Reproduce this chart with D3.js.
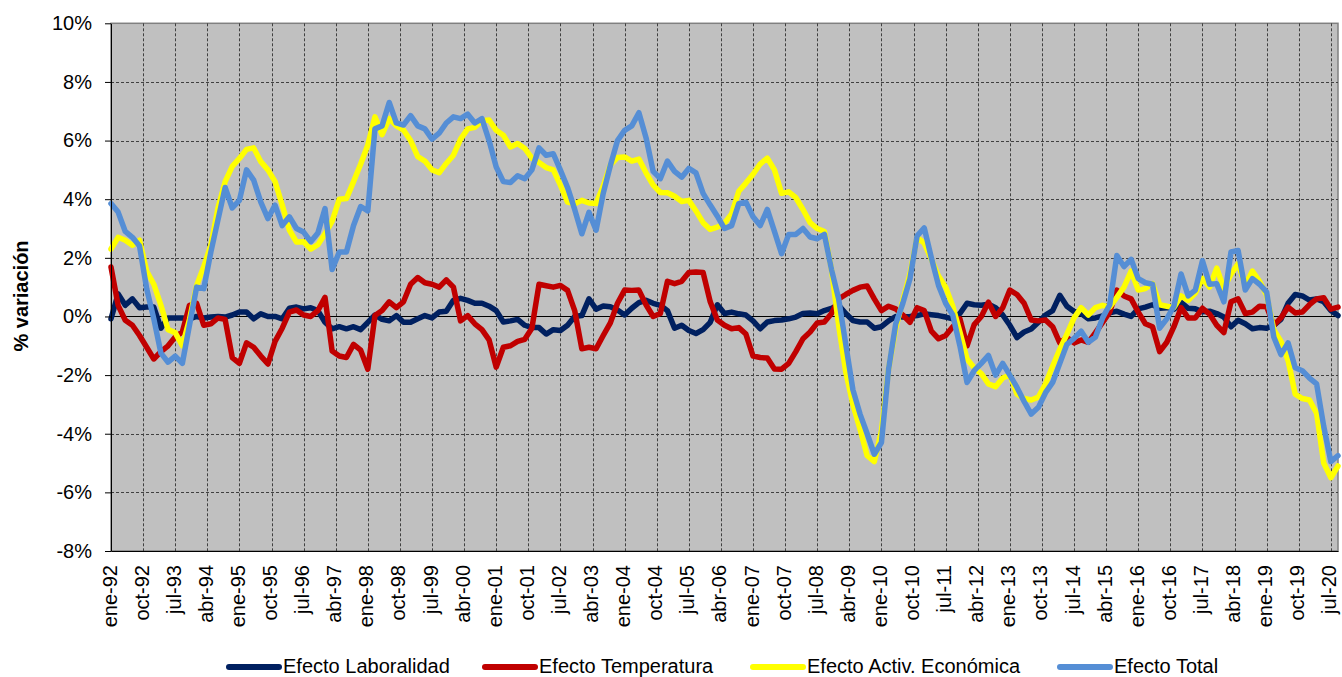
<!DOCTYPE html>
<html>
<head>
<meta charset="utf-8">
<script src="https://cdn.jsdelivr.net/npm/d3@7"></script>
<style>
    body { margin: 0; background: #ffffff; }
    svg { display: block; font-family: Arial, "Liberation Sans", sans-serif; }
</style>
</head>
<body>
<svg id="chart" width="1342" height="677"></svg>
<script>
// values are read every 2 months, starting in ene-92
var STEP_MONTHS = 2;
var START_YEAR = 1992;

var monthNames = ['ene', 'feb', 'mar', 'abr', 'may', 'jun', 'jul', 'ago', 'sep', 'oct', 'nov', 'dic'];

var tickLabels = [
    'ene-92', 'oct-92', 'jul-93', 'abr-94', 'ene-95', 'oct-95', 'jul-96', 'abr-97', 'ene-98', 'oct-98',
    'jul-99', 'abr-00', 'ene-01', 'oct-01', 'jul-02', 'abr-03', 'ene-04', 'oct-04', 'jul-05', 'abr-06',
    'ene-07', 'oct-07', 'jul-08', 'abr-09', 'ene-10', 'oct-10', 'jul-11', 'abr-12', 'ene-13', 'oct-13',
    'jul-14', 'abr-15', 'ene-16', 'oct-16', 'jul-17', 'abr-18', 'ene-19', 'oct-19', 'jul-20'
];

var yTicks = [-8, -6, -4, -2, 0, 2, 4, 6, 8, 10];

var seriesNames = ['Efecto Laboralidad', 'Efecto Temperatura', 'Efecto Activ. Económica', 'Efecto Total'];

var laboralidad = [
    -0.08, 0.77, 0.38, 0.6, 0.3, 0.32,        // 1992
    0.32, -0.4, -0.05, -0.05, -0.05, -0.08,
    0.0, -0.05, -0.02, 0.0, -0.02, 0.05,
    0.15, 0.15, -0.08, 0.09, 0.0, 0.0,
    -0.08, 0.28, 0.32, 0.26, 0.3, 0.2,
    -0.2, -0.42, -0.35, -0.42, -0.35, -0.45,
    -0.2, 0.05, -0.1, -0.15, 0.03, -0.2,
    -0.2, -0.08, 0.03, -0.05, 0.15, 0.18,
    0.55, 0.62, 0.55, 0.45, 0.45, 0.35,       // 2000
    0.2, -0.19, -0.15, -0.1, -0.3, -0.38,
    -0.38, -0.6, -0.45, -0.48, -0.3, 0.0,
    0.03, 0.6, 0.25, 0.36, 0.33, 0.22,
    0.05, 0.28, 0.47, 0.55, 0.45, 0.38,
    0.2, -0.4, -0.3, -0.48, -0.58, -0.45,
    -0.2, 0.4, 0.1, 0.15, 0.09, 0.05,
    -0.15, -0.42, -0.19, -0.14, -0.12, -0.08,
    -0.02, 0.1, 0.12, 0.09, 0.2, 0.28,
    0.38, 0.1, -0.14, -0.19, -0.19, -0.4,
    -0.35, -0.15, 0.0, -0.02, 0.0, 0.03,      // 2010
    0.09, 0.06, 0.03, -0.02, -0.08, 0.1,
    0.45, 0.4, 0.38, 0.42, 0.3, 0.05,
    -0.3, -0.72, -0.53, -0.43, -0.2, 0.05,
    0.2, 0.72, 0.35, 0.17, 0.1, -0.08,
    -0.05, 0.02, 0.12, 0.18, 0.08, 0.0,
    0.26, 0.32, 0.4, 0.28, 0.3, 0.25,
    0.48, 0.28, 0.26, 0.16, 0.18, 0.1,
    -0.02, -0.35, -0.13, -0.25, -0.42, -0.38,
    -0.4, -0.3, -0.1, 0.45, 0.75, 0.7,
    0.56, 0.6, 0.5, 0.2, 0.03                 // 2020
];

var temperatura = [
    1.69, 0.38, -0.13, -0.3, -0.65, -1.05,    // 1992
    -1.45, -1.2, -1.0, -0.7, -0.53, 0.38,
    0.45, -0.3, -0.25, -0.05, -0.1, -1.4,
    -1.6, -0.9, -1.05, -1.35, -1.62, -0.85,
    -0.4, 0.15, 0.22, 0.05, 0.0, 0.2,
    0.65, -1.18, -1.35, -1.4, -0.95, -1.15,
    -1.8, 0.03, 0.2, 0.5, 0.3, 0.5,
    1.1, 1.33, 1.15, 1.1, 1.0, 1.25,
    1.0, -0.15, 0.03, -0.25, -0.45, -0.8,     // 2000
    -1.73, -1.05, -1.0, -0.85, -0.78, -0.4,
    1.1, 1.05, 1.0, 1.06, 0.89, 0.2,
    -1.1, -1.05, -1.1, -0.65, -0.22, 0.45,
    0.9, 0.89, 0.9, 0.4, 0.0, 0.1,
    1.2, 1.12, 1.2, 1.5, 1.52, 1.5,
    0.5, -0.12, -0.3, -0.42, -0.38, -0.6,
    -1.35, -1.4, -1.42, -1.79, -1.8, -1.6,
    -1.2, -0.76, -0.53, -0.22, -0.19, 0.1,
    0.6, 0.75, 0.89, 1.0, 1.04, 0.6,
    0.2, 0.35, 0.26, 0.05, -0.2, 0.3,         // 2010
    0.2, -0.5, -0.76, -0.65, -0.35, -0.08,
    -1.0, -0.28, 0.0, 0.49, 0.0, 0.3,
    0.9, 0.75, 0.45, -0.12, -0.15, -0.12,
    -0.35, -0.9, -0.72, -0.9, -0.8, -0.88,
    -0.55, -0.2, 0.15, 0.9, 0.7, 0.6,
    0.15, -0.25, -0.35, -1.2, -0.88, -0.35,
    0.3, -0.05, -0.05, 0.28, 0.08, -0.3,
    -0.55, 0.5, 0.6, 0.1, 0.15, 0.35,
    0.33, -0.3, -0.05, 0.32, 0.12, 0.15,
    0.4, 0.6, 0.64, 0.25, 0.32                // 2020
];

var actividad = [
    2.3, 2.7, 2.6, 2.43, 2.6, 1.55,           // 1992
    1.1, 0.38, -0.45, -0.55, -1.0, -0.1,
    1.05, 1.7, 2.43, 3.7, 4.6, 5.12,
    5.39, 5.7, 5.75, 5.28, 5.0, 4.6,
    3.8, 2.95, 2.54, 2.55, 2.3, 2.45,
    2.82, 3.25, 4.0, 4.02, 4.6, 5.2,
    5.85, 6.81, 6.2, 6.75, 6.5, 6.36,
    6.0, 5.45, 5.3, 5.0, 4.9, 5.22,
    5.5, 6.05, 6.4, 6.45, 6.68, 6.7,          // 2000
    6.35, 6.18, 5.78, 5.9, 5.73, 5.4,
    5.25, 5.08, 5.0, 4.48, 3.9, 3.84,
    3.96, 3.87, 3.85, 4.45, 5.17, 5.42,
    5.44, 5.3, 5.37, 4.9, 4.48, 4.23,
    4.22, 4.1, 3.92, 3.96, 3.6, 3.2,
    2.97, 3.05, 3.18, 3.5, 4.27, 4.55,
    4.85, 5.2, 5.4, 5.0, 4.2, 4.25,
    4.05, 3.65, 3.2, 3.0, 2.9, 1.6,
    -0.3, -1.9, -3.0, -3.85, -4.75, -4.95,
    -3.9, -1.8, -0.4, 0.55, 1.45, 2.7,        // 2010
    2.5, 1.95, 1.38, 1.0, 0.35, -0.53,
    -1.45, -1.75, -1.95, -2.3, -2.4, -2.1,
    -2.0, -2.65, -2.8, -2.85, -2.75, -2.3,
    -1.7, -1.12, -0.6, -0.05, 0.3, 0.05,
    0.3, 0.38, 0.32, 0.65, 1.0, 1.55,
    0.9, 0.95, 1.12, 0.4, 0.35, 0.3,
    0.7, 0.55, 0.8, 1.3, 1.0, 1.65,
    0.95, 1.45, 1.8, 1.06, 1.55, 1.2,
    0.72, -0.45, -0.85, -1.5, -2.65, -2.8,
    -2.85, -3.3, -5.0, -5.5, -5.1             // 2020
];

var total = [
    3.85, 3.56, 2.9, 2.7, 2.4, 0.95,          // 1992
    -0.08, -1.25, -1.56, -1.35, -1.6, -0.3,
    1.0, 0.95, 2.2, 3.3, 4.4, 3.7,
    3.96, 5.0, 4.65, 3.9, 3.34, 3.8,
    3.1, 3.4, 3.0, 2.88, 2.55, 2.85,
    3.68, 1.6, 2.2, 2.2, 3.1, 3.75,
    3.6, 6.4, 6.5, 7.3, 6.6, 6.53,
    6.85, 6.5, 6.4, 6.05, 6.25, 6.6,
    6.81, 6.75, 6.9, 6.6, 6.75, 6.0,          // 2000
    5.1, 4.6, 4.57, 4.8, 4.7, 5.0,
    5.75, 5.5, 5.55, 4.99, 4.4, 3.65,
    2.82, 3.55, 2.94, 4.2, 5.15, 6.0,
    6.35, 6.5, 6.95, 6.1, 4.95, 4.7,
    5.3, 4.95, 4.75, 5.05, 4.9, 4.2,
    3.8, 3.42, 3.0, 3.1, 3.85, 3.9,
    3.4, 3.1, 3.65, 2.9, 2.14, 2.8,
    2.8, 3.0, 2.71, 2.65, 2.8, 1.6,
    0.6, -0.95, -2.5, -3.33, -4.0, -4.7,
    -4.3, -1.8, -0.25, 0.45, 1.29, 2.75,      // 2010
    3.02, 2.0, 1.06, 0.45, 0.05, -1.0,
    -2.25, -1.85, -1.6, -1.33, -2.0, -1.6,
    -2.0, -2.42, -2.9, -3.33, -3.1, -2.6,
    -2.25, -1.6, -0.95, -0.75, -0.5, -0.88,
    -0.7, -0.05, 0.4, 2.08, 1.7, 1.95,
    1.29, 1.15, 1.1, -0.4, -0.08, 0.35,
    1.45, 0.7, 0.9, 1.9, 1.1, 1.12,
    0.5, 2.2, 2.25, 0.9, 1.29, 1.1,
    0.83, -0.7, -1.3, -0.9, -1.75, -1.85,
    -2.1, -2.3, -3.75, -4.95, -4.75           // 2020
];

var seriesColors = ['#002060', '#c00000', '#ffff00', '#558ed5'];

// plot box, in page pixels
var PLOT = {left: 111, top: 23.3, right: 1338, bottom: 551};

/**
 * month index (0 = ene-92) of a label like 'abr-03'
 */
function labelToMonth(label) {
    var parts = label.split('-');
    var yy = +parts[1];
    var year = yy < 50 ? 2000 + yy : 1900 + yy;
    return (year - START_YEAR) * 12 + monthNames.indexOf(parts[0]);
}

var allSeries = [laboralidad, temperatura, actividad, total].map(function(values, i) {
    return {
        name: seriesNames[i],
        color: seriesColors[i],
        points: values.map(function(v, k) { return {m: k * STEP_MONTHS, v: v}; })
    };
});

var lastMonth = (total.length - 1) * STEP_MONTHS;
var tickMonths = tickLabels.map(labelToMonth);

var svg = d3.select('#chart');

var x = d3.scaleLinear().domain([0, lastMonth]).range([PLOT.left, PLOT.right]);
var y = d3.scaleLinear().domain([-8, 10]).range([PLOT.bottom, PLOT.top]);

// plot background
svg.append('rect')
    .attr('x', PLOT.left)
    .attr('y', PLOT.top)
    .attr('width', PLOT.right - PLOT.left)
    .attr('height', PLOT.bottom - PLOT.top)
    .attr('fill', '#c0c0c0')
    .attr('stroke', '#808080')
    .attr('stroke-width', 1.5);

// dashed grid
var grid = svg.append('g').attr('class', 'grid')
    .attr('stroke', '#404040')
    .attr('stroke-width', 1)
    .attr('stroke-dasharray', '3,2');

grid.selectAll('line.h')
    .data(yTicks.filter(function(t) { return t !== 0 && t !== 10 && t !== -8; }))
    .enter().append('line')
    .attr('class', 'h')
    .attr('x1', PLOT.left).attr('x2', PLOT.right)
    .attr('y1', function(d) { return Math.round(y(d)) + 0.5; })
    .attr('y2', function(d) { return Math.round(y(d)) + 0.5; });

grid.selectAll('line.v')
    .data(tickMonths.filter(function(m) { return m > 0; }))
    .enter().append('line')
    .attr('class', 'v')
    .attr('y1', PLOT.top).attr('y2', PLOT.bottom)
    .attr('x1', function(d) { return Math.round(x(d)) + 0.5; })
    .attr('x2', function(d) { return Math.round(x(d)) + 0.5; });

// zero line
svg.append('line')
    .attr('x1', PLOT.left).attr('x2', PLOT.right)
    .attr('y1', Math.round(y(0)) + 0.5).attr('y2', Math.round(y(0)) + 0.5)
    .attr('stroke', '#000')
    .attr('stroke-width', 1);

var valueLine = d3.line()
    .x(function(d) { return x(d.m); })
    .y(function(d) { return y(d.v); });

svg.append('g').selectAll('path')
    .data(allSeries)
    .enter().append('path')
    .attr('fill', 'none')
    .attr('stroke', function(d) { return d.color; })
    .attr('stroke-width', 5.5)
    .attr('stroke-linejoin', 'round')
    .attr('stroke-linecap', 'round')
    .attr('d', function(d) { return valueLine(d.points); });

// Y axis
var yAxis = d3.axisLeft(y)
    .tickValues(yTicks)
    .tickSize(6)
    .tickSizeOuter(0)
    .tickPadding(13)
    .tickFormat(function(d) { return d + '%'; });

var yAxisG = svg.append('g')
    .attr('transform', 'translate(' + PLOT.left + ',0)')
    .call(yAxis);
yAxisG.selectAll('text')
    .attr('font-size', 20)
    .attr('font-family', 'Arial, "Liberation Sans", sans-serif')
    .attr('fill', '#000');
yAxisG.selectAll('line, path').attr('stroke', '#000');

// X axis, labels written upwards
var xAxis = d3.axisBottom(x)
    .tickValues(tickMonths)
    .tickSize(0)
    .tickSizeOuter(0)
    .tickFormat(function(d, i) { return tickLabels[i]; });

var xAxisG = svg.append('g')
    .attr('transform', 'translate(0,' + PLOT.bottom + ')')
    .call(xAxis);
xAxisG.select('.domain').attr('stroke', '#000');
xAxisG.selectAll('text')
    .attr('font-size', 20)
    .attr('font-family', 'Arial, "Liberation Sans", sans-serif')
    .attr('fill', '#000')
    .attr('text-anchor', 'end')
    .attr('transform', 'rotate(-90)')
    .attr('x', -14)
    .attr('y', 0)
    .attr('dy', '0.25em');

// Y axis title
svg.append('text')
    .attr('transform', 'translate(21,296) rotate(-90)')
    .attr('text-anchor', 'middle')
    .attr('dy', '0.35em')
    .attr('font-size', 20)
    .attr('font-weight', 'bold')
    .text('% variación');

// legend
var legendX = [226, 482, 750, 1057];
var legend = svg.append('g').selectAll('g')
    .data(allSeries)
    .enter().append('g')
    .attr('transform', function(d, i) { return 'translate(' + legendX[i] + ',0)'; });

legend.append('line')
    .attr('x1', 3).attr('x2', 53)
    .attr('y1', 667).attr('y2', 667)
    .attr('stroke', function(d) { return d.color; })
    .attr('stroke-width', 6)
    .attr('stroke-linecap', 'round');

legend.append('text')
    .attr('x', 57)
    .attr('y', 673)
    .attr('font-size', 20)
    .attr('fill', '#000')
    .text(function(d) { return d.name; });
</script>
</body>
</html>
